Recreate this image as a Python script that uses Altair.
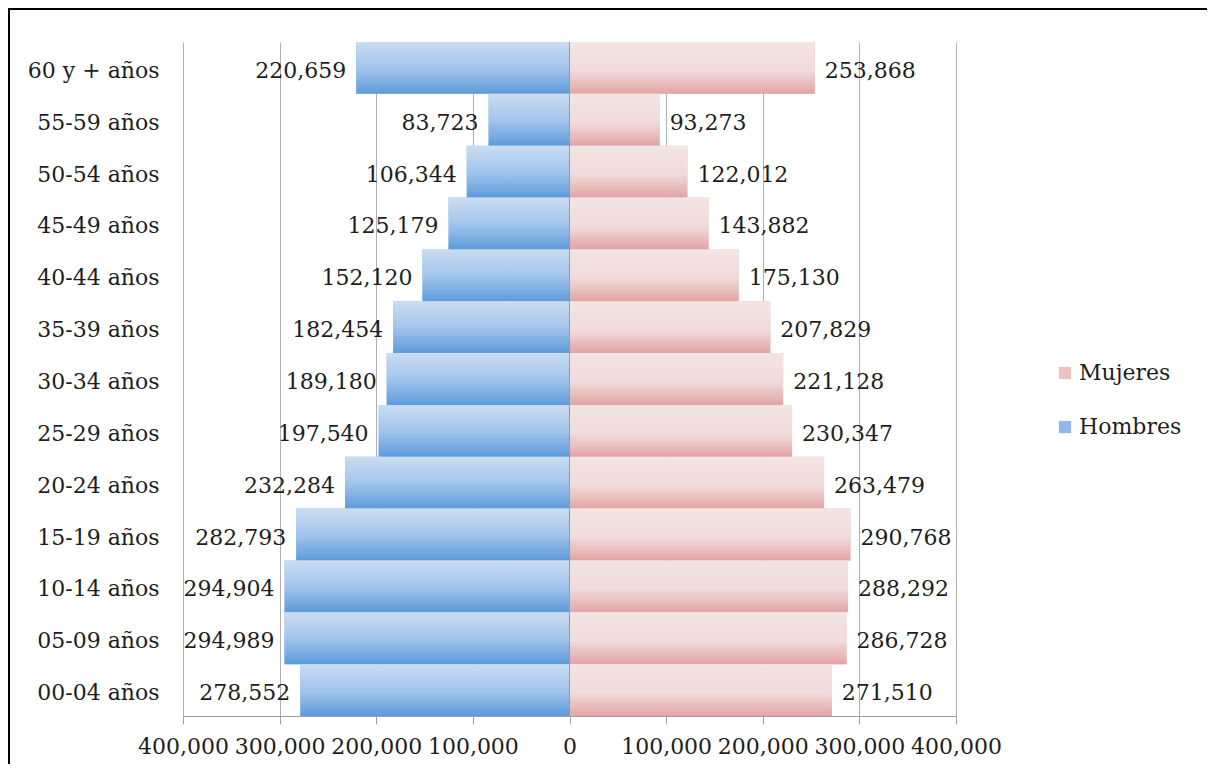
import altair as alt
import pandas as pd

ages = ["60 y + años", "55-59 años", "50-54 años", "45-49 años", "40-44 años",
        "35-39 años", "30-34 años", "25-29 años", "20-24 años", "15-19 años",
        "10-14 años", "05-09 años", "00-04 años"]
hombres = [220659, 83723, 106344, 125179, 152120, 182454, 189180, 197540,
           232284, 282793, 294904, 294989, 278552]
mujeres = [253868, 93273, 122012, 143882, 175130, 207829, 221128, 230347,
           263479, 290768, 288292, 286728, 271510]
tick_values = [-400000, -300000, -200000, -100000, 0, 100000, 200000, 300000, 400000]

rows = []
for a, h, m in zip(ages, hombres, mujeres):
    rows.append({"edad": a, "sexo": "Hombres", "valor": h, "x": -h})
    rows.append({"edad": a, "sexo": "Mujeres", "valor": m, "x": m})
df = pd.DataFrame(rows)

FONT = "DejaVu Serif"
FS = 22
TXT = "#1e1e1e"

W, H = 773, 674
PAD_L, PAD_T, PAD_R, PAD_B = 175, 34, 251, 48

y_enc = alt.Y("edad:N", sort=ages,
              scale=alt.Scale(paddingInner=0, paddingOuter=0),
              axis=alt.Axis(title=None, ticks=False, domain=False, labelPadding=24,
                            labelOffset=3,
                            labelFont=FONT, labelFontSize=FS, labelColor=TXT))
x_enc = alt.X("x:Q",
              scale=alt.Scale(domain=[-400000, 400000], nice=False),
              axis=alt.Axis(title=None, values=tick_values,
                            labelExpr="format(abs(datum.value), ',')",
                            grid=True, gridColor="#b0b0b0", domainColor="#a0a0a0",
                            tickColor="#a0a0a0", tickSize=8, labelOverlap=False,
                            labelPadding=12, labelFont=FONT, labelFontSize=FS,
                            labelColor=TXT, labelFlush=False))

base = alt.Chart(df)

legend_bars = base.mark_bar().encode(
    x=x_enc, y=y_enc,
    color=alt.Color("sexo:N",
                    scale=alt.Scale(domain=["Mujeres", "Hombres"],
                                    range=["#e9c3c2", "#8fb9e8"]),
                    legend=alt.Legend(title=None, orient="none", legendX=871, legendY=320,
                                      symbolType="square", symbolSize=150,
                                      symbolStrokeWidth=0, rowPadding=32, padding=0,
                                      labelFont=FONT, labelFontSize=FS, labelColor=TXT,
                                      labelOffset=3))
)

blue_grad = alt.Gradient(gradient="linear", x1=0, x2=0, y1=0, y2=1, stops=[
    alt.GradientStop(color="#cbddf2", offset=0),
    alt.GradientStop(color="#a3c5ec", offset=0.5),
    alt.GradientStop(color="#5d9bdb", offset=1)])
pink_grad = alt.Gradient(gradient="linear", x1=0, x2=0, y1=0, y2=1, stops=[
    alt.GradientStop(color="#f3e5e3", offset=0),
    alt.GradientStop(color="#f0dcda", offset=0.55),
    alt.GradientStop(color="#e2a4a5", offset=1)])

h_bars = base.transform_filter(alt.datum.sexo == "Hombres").mark_bar(color=blue_grad).encode(
    x=x_enc, y=y_enc)
m_bars = base.transform_filter(alt.datum.sexo == "Mujeres").mark_bar(color=pink_grad).encode(
    x=x_enc, y=y_enc)

h_text = base.transform_filter(alt.datum.sexo == "Hombres").mark_text(
    align="right", baseline="middle", dx=-10, dy=3, font=FONT, fontSize=FS, color=TXT).encode(
    x=x_enc, y=y_enc, text=alt.Text("valor:Q", format=","))
m_text = base.transform_filter(alt.datum.sexo == "Mujeres").mark_text(
    align="left", baseline="middle", dx=10, dy=3, font=FONT, fontSize=FS, color=TXT).encode(
    x=x_enc, y=y_enc, text=alt.Text("valor:Q", format=","))

zero_rule = alt.Chart(pd.DataFrame({"z": [0]})).mark_rule(color="#9a9a9a", strokeWidth=1).encode(
    x=alt.X("z:Q"))

frame = pd.DataFrame({"f": [0]})
border_top = alt.Chart(frame).mark_rule(color="black", strokeWidth=2).encode(
    x=alt.value(-PAD_L), x2=alt.value(W + PAD_R), y=alt.value(-PAD_T + 1))
border_left = alt.Chart(frame).mark_rule(color="black", strokeWidth=2).encode(
    x=alt.value(-PAD_L + 1), y=alt.value(-PAD_T), y2=alt.value(H + PAD_B))

chart = alt.layer(legend_bars, h_bars, m_bars, zero_rule, h_text, m_text,
                  border_top, border_left).properties(
    width=W, height=H,
    autosize=alt.AutoSizeParams(type="none"),
    padding={"left": PAD_L, "top": PAD_T, "right": PAD_R, "bottom": PAD_B},
    background="white",
).configure_view(stroke=None)

chart.save("out.html", embed_options={"renderer": "svg", "actions": False})
